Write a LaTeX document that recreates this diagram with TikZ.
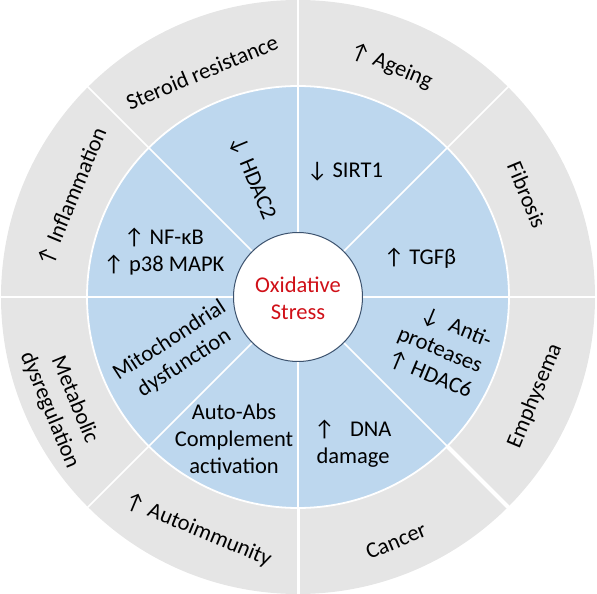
\documentclass[tikz,border=0pt]{standalone}
\usepackage{fontspec}
\setmainfont{Carlito}
\usepackage{tikz}
\usetikzlibrary{arrows.meta,calc}
\definecolor{ringgray}{RGB}{229, 229, 229}
\definecolor{ringblue}{RGB}{189, 215, 238}
\definecolor{coreedge}{RGB}{60, 82, 110}
\definecolor{stressred}{RGB}{208, 16, 24}
\newcommand{\upar}{↑}
\newcommand{\dnar}{↓}

\begin{document}
\begin{tikzpicture}[x=1pt, y=1pt,
    lbl/.style={font=\fontsize{22.5}{27}\selectfont, align=center, inner sep=0pt},
    divider/.style={white, line width=1.6pt}]
  \useasboundingbox (-298,-297) rectangle (299,297);

  % Outer ring (diseases)
  \fill[ringgray] (0,0) circle (297);
  % Inner ring (mechanisms)
  \fill[ringblue] (0,0) circle (211);
  \draw[white, line width=1.8pt] (0,0) circle (211);

  % Sector dividers
  \foreach \a in {0,45,...,315}
    \draw[divider] (\a:60) -- (\a:300);
  \draw[white, line width=4pt] (-45:211) -- (-45:300);
  \draw[white, line width=3pt] (-90:211) -- (-90:300);

  % Core
  \node[circle, fill=white, draw=coreedge, line width=1pt,
    minimum size=129pt, inner sep=0pt] (core) at (0,0) {};
  \node[lbl, text=stressred] (stress) at (0,-1) {Oxidative\\Stress};

  % Mechanisms
  \node[lbl, rotate=-67.5] (hdac2) at (-46,119) {\dnar\ HDAC2};
  \node[lbl] (sirt1) at (47,125) {\dnar\ SIRT1};
  \node[lbl] (tgfb) at (122,39) {\upar\ TGFβ};
  \node[lbl, align=left, rotate=-22.5] (antiprot) at (142,-53)
    {\hspace*{0.6em}\dnar\ \ Anti-\\proteases\\\upar\ HDAC6};
  \node[lbl] (dna) at (55,-147) {\upar\ \ \ DNA\\damage};
  \node[lbl] (autoabs) at (-64,-142) {Auto-Abs\\Complement\\activation};
  \node[lbl, rotate=33] (mito) at (-121,-55) {Mitochondrial\\dysfunction};
  \node[lbl] (nfkb) at (-134,45) {\upar\ NF-κB\\\upar\ p38 MAPK};

  % Diseases
  \node[lbl, rotate=22.5] (steroid) at (-96,225) {Steroid resistance};
  \node[lbl, rotate=-22.5] (ageing) at (93,231) {\upar\ Ageing};
  \node[lbl, rotate=-67.5] (fibrosis) at (229,102) {Fibrosis};
  \node[lbl, rotate=67.5] (emphysema) at (237,-99) {Emphysema};
  \node[lbl, rotate=22.5] (cancer) at (98,-244) {Cancer};
  \node[lbl, rotate=-22.5] (autoimm) at (-100,-233) {\upar\ Autoimmunity};
  \node[lbl, rotate=-67.5] (metab) at (-236,-108) {Metabolic\\dysregulation};
  \node[lbl, rotate=67.5] (inflam) at (-226,100) {\upar\ Inflammation};
\end{tikzpicture}
\end{document}
